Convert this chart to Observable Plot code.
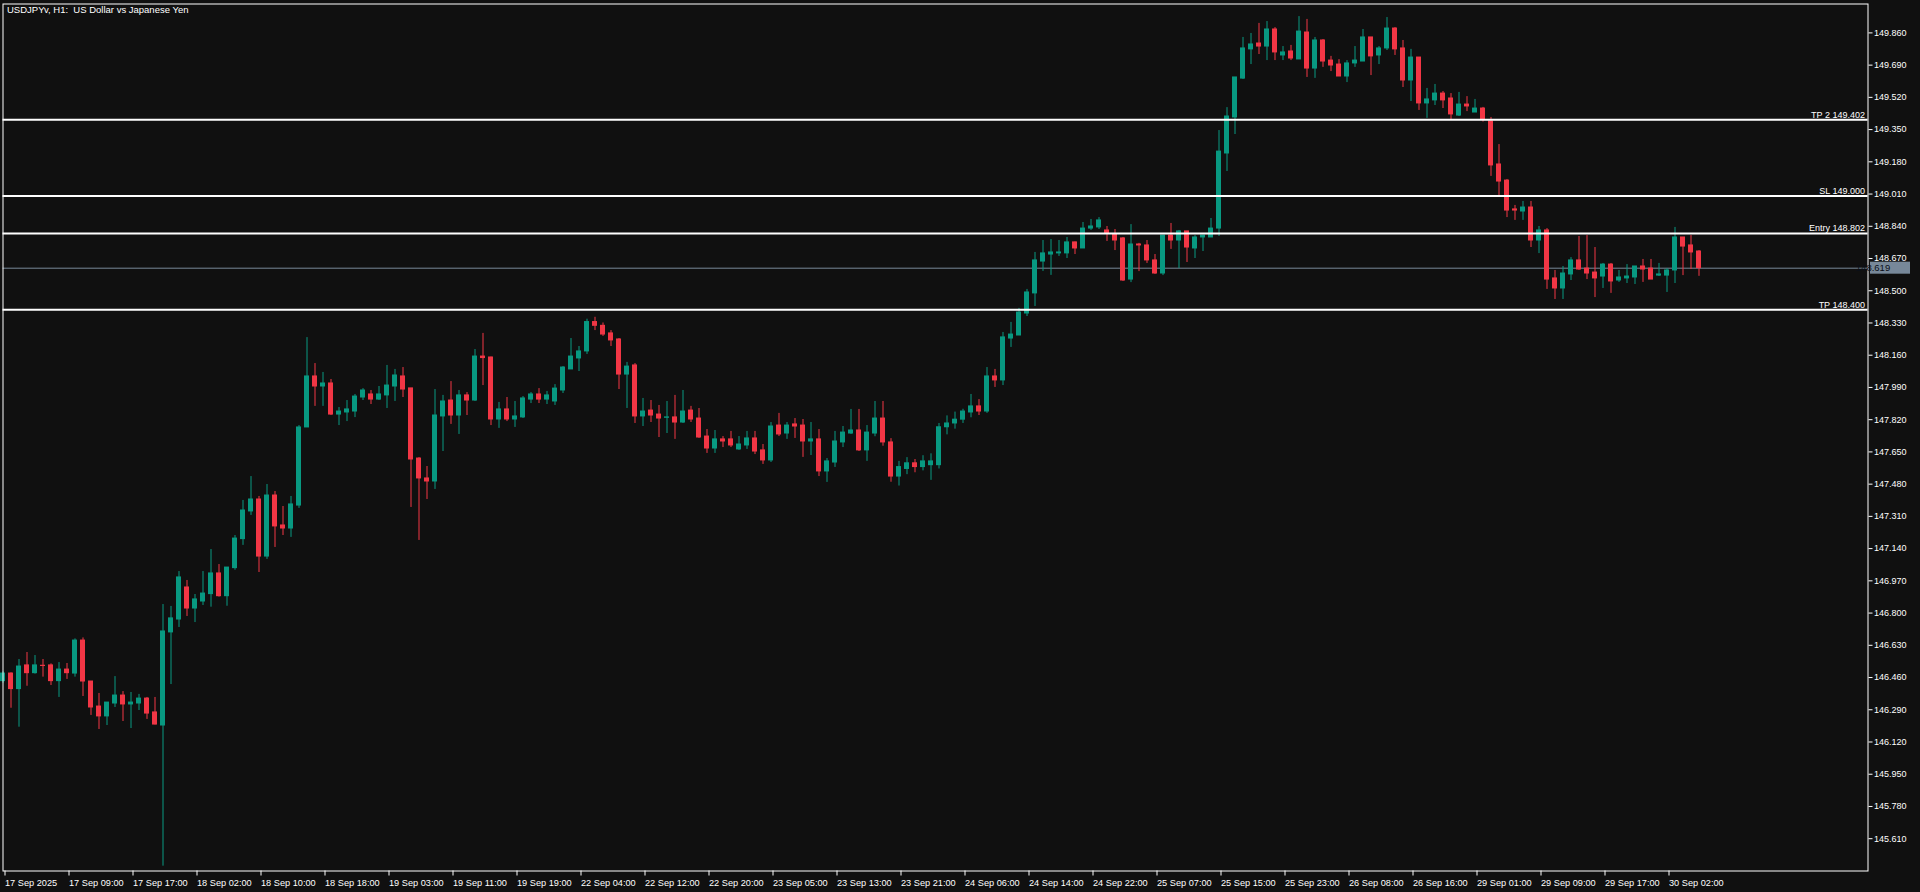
<!DOCTYPE html>
<html><head><meta charset="utf-8">
<script src="https://cdn.jsdelivr.net/npm/d3@7"></script>
<script src="https://cdn.jsdelivr.net/npm/@observablehq/plot@0.6"></script>
<style>
html,body{margin:0;padding:0;background:#101010;overflow:hidden;}
#chart svg{display:block;}
</style></head><body><div id="chart"></div>
<script>
const title = "USDJPYv, H1:  US Dollar vs Japanese Yen";

const open = [146.441,146.481,146.399,146.524,146.483,146.522,146.524,146.441,146.502,146.481,
146.655,146.439,146.307,146.255,146.323,146.365,146.318,146.323,146.349,146.276,
146.207,146.698,146.766,146.935,146.824,146.861,146.900,147.009,146.889,147.037,
147.190,147.336,147.399,147.098,147.420,147.262,147.246,147.367,147.779,148.048,
147.995,148.011,147.847,147.858,147.863,147.937,147.953,147.926,147.948,147.995,
148.048,147.985,147.615,147.510,147.494,147.837,147.921,147.842,147.948,147.921,
148.153,148.148,147.821,147.874,147.821,147.832,147.926,147.953,147.926,147.916,
147.974,148.085,148.143,148.180,148.335,148.315,148.275,148.243,148.058,148.106,
147.837,147.868,147.847,147.830,147.832,147.805,147.868,147.826,147.731,147.668,
147.716,147.716,147.663,147.684,147.721,147.658,147.605,147.789,147.747,147.795,
147.789,147.705,147.716,147.547,147.594,147.700,147.747,147.763,147.658,147.747,
147.826,147.700,147.520,147.560,147.590,147.570,147.580,147.580,147.780,147.800,
147.820,147.858,147.890,147.863,148.048,148.027,148.248,148.264,148.380,148.486,
148.654,148.691,148.697,148.697,148.755,148.723,148.828,148.834,148.818,148.797,
148.776,148.559,148.744,148.739,148.660,148.591,148.791,148.765,148.813,148.723,
148.781,148.781,148.828,149.224,149.414,149.619,149.773,149.804,149.788,149.878,
149.741,149.762,149.720,149.862,149.672,149.820,149.714,149.693,149.630,149.699,
149.709,149.836,149.741,149.778,149.883,149.778,149.609,149.730,149.488,149.504,
149.540,149.514,149.424,149.482,149.440,149.461,149.393,149.166,149.081,148.929,
148.918,148.939,148.765,148.818,148.565,148.512,148.586,148.660,148.617,148.596,
148.575,148.638,148.554,148.565,148.570,148.628,148.617,148.580,148.580,148.607,
148.781,148.739,148.707];

const high = [146.490,146.485,146.555,146.592,146.576,146.555,146.532,146.539,146.534,146.664,
146.669,146.439,146.376,146.328,146.465,146.386,146.381,146.371,146.355,146.355,
146.845,146.835,147.019,146.972,146.898,147.019,147.135,147.056,147.040,147.209,
147.394,147.520,147.415,147.478,147.441,147.362,147.415,147.789,148.253,148.116,
148.069,148.032,147.884,147.921,147.953,147.984,147.974,147.995,148.106,148.085,
148.095,147.985,147.620,147.573,147.979,147.948,148.021,147.974,147.963,148.190,
148.275,148.150,147.911,147.937,147.916,147.942,147.963,147.984,147.969,148.005,
148.100,148.248,148.206,148.350,148.360,148.330,148.290,148.248,148.122,148.116,
147.932,147.921,147.895,147.916,147.948,147.974,147.890,147.879,147.768,147.763,
147.731,147.758,147.731,147.758,147.758,147.689,147.805,147.853,147.805,147.826,
147.821,147.805,147.768,147.615,147.758,147.784,147.874,147.874,147.789,147.916,
147.916,147.720,147.600,147.620,147.610,147.630,147.640,147.800,147.840,147.860,
147.875,147.953,147.926,148.095,148.085,148.280,148.333,148.407,148.507,148.702,
148.765,148.770,148.765,148.781,148.757,148.860,148.876,148.886,148.839,148.823,
148.781,148.849,148.750,148.765,148.691,148.791,148.855,148.818,148.813,148.791,
148.791,148.881,149.345,149.466,149.625,149.836,149.857,149.910,149.920,149.888,
149.788,149.794,149.946,149.931,149.836,149.825,149.736,149.719,149.714,149.788,
149.878,149.836,149.788,149.941,149.888,149.820,149.773,149.730,149.567,149.588,
149.551,149.540,149.546,149.524,149.509,149.467,149.414,149.271,149.087,148.950,
148.971,148.971,148.839,148.828,148.607,148.628,148.675,148.786,148.791,148.728,
148.644,148.644,148.607,148.638,148.628,148.665,148.665,148.644,148.617,148.834,
148.781,148.791,148.712];

const low = [146.430,146.298,146.198,146.414,146.478,146.462,146.418,146.355,146.450,146.462,
146.360,146.260,146.186,146.207,146.302,146.228,146.191,146.286,146.239,146.210,
145.465,146.423,146.724,146.782,146.750,146.840,146.831,146.884,146.836,147.026,
147.157,147.315,147.014,147.083,147.146,147.209,147.199,147.352,147.779,147.890,
147.890,147.842,147.789,147.810,147.831,147.921,147.900,147.921,147.879,147.916,
147.937,147.357,147.183,147.399,147.452,147.652,147.795,147.742,147.842,147.916,
148.000,147.789,147.774,147.810,147.779,147.826,147.905,147.905,147.900,147.895,
147.958,148.085,148.074,148.164,148.290,148.259,148.206,147.979,147.879,147.800,
147.784,147.805,147.726,147.747,147.716,147.800,147.805,147.721,147.642,147.642,
147.673,147.673,147.658,147.663,147.636,147.584,147.594,147.731,147.716,147.721,
147.621,147.631,147.520,147.489,147.568,147.673,147.742,147.652,147.600,147.730,
147.680,147.490,147.470,147.530,147.540,147.550,147.500,147.560,147.740,147.770,
147.800,147.830,147.842,147.853,147.990,148.000,148.201,148.264,148.364,148.417,
148.602,148.581,148.681,148.670,148.691,148.723,148.818,148.823,148.760,148.712,
148.549,148.543,148.601,148.644,148.586,148.580,148.718,148.617,148.649,148.670,
148.707,148.781,148.786,149.129,149.324,149.614,149.693,149.746,149.714,149.714,
149.714,149.714,149.720,149.625,149.620,149.678,149.656,149.630,149.598,149.678,
149.709,149.635,149.693,149.767,149.741,149.572,149.498,149.451,149.409,149.477,
149.461,149.398,149.419,149.445,149.440,149.390,149.103,149.002,148.886,148.871,
148.871,148.728,148.696,148.507,148.454,148.454,148.554,148.607,148.559,148.464,
148.512,148.486,148.544,148.538,148.533,148.544,148.559,148.575,148.491,148.538,
148.580,148.612,148.576];

const close = [146.481,146.399,146.518,146.483,146.524,146.521,146.441,146.502,146.483,146.655,
146.439,146.302,146.255,146.328,146.365,146.318,146.328,146.349,146.270,146.212,
146.703,146.772,146.988,146.824,146.872,146.903,147.009,146.889,147.040,147.193,
147.341,147.399,147.098,147.420,147.257,147.246,147.373,147.779,148.048,147.995,
148.011,147.847,147.863,147.874,147.942,147.974,147.926,147.953,148.000,148.053,
147.979,147.610,147.510,147.494,147.842,147.916,147.842,147.948,147.921,148.153,
148.145,147.821,147.874,147.821,147.837,147.932,147.953,147.926,147.948,147.984,
148.095,148.153,148.180,148.335,148.315,148.269,148.238,148.058,148.100,147.837,
147.863,147.842,147.826,147.832,147.805,147.863,147.821,147.726,147.668,147.716,
147.705,147.684,147.689,147.721,147.652,147.605,147.784,147.742,147.789,147.784,
147.705,147.716,147.547,147.600,147.705,147.752,147.763,147.658,147.752,147.826,
147.700,147.520,147.570,147.590,147.570,147.600,147.600,147.780,147.800,147.820,
147.863,147.890,147.863,148.048,148.027,148.254,148.269,148.385,148.491,148.660,
148.697,148.702,148.702,148.755,148.723,148.828,148.839,148.871,148.802,148.765,
148.554,148.744,148.739,148.660,148.591,148.791,148.765,148.813,148.728,148.781,
148.791,148.828,149.234,149.419,149.625,149.778,149.799,149.788,149.878,149.757,
149.757,149.725,149.867,149.672,149.820,149.709,149.688,149.630,149.699,149.714,
149.836,149.736,149.778,149.883,149.773,149.609,149.730,149.488,149.509,149.540,
149.504,149.430,149.482,149.472,149.461,149.400,149.161,149.076,148.923,148.923,
148.939,148.765,148.818,148.559,148.512,148.591,148.660,148.612,148.591,148.565,
148.638,148.549,148.570,148.575,148.628,148.612,148.559,148.586,148.607,148.781,
148.733,148.702,148.619];

const timeLabels = ["17 Sep 2025","17 Sep 09:00","17 Sep 17:00","18 Sep 02:00","18 Sep 10:00",
"18 Sep 18:00","19 Sep 03:00","19 Sep 11:00","19 Sep 19:00","22 Sep 04:00","22 Sep 12:00",
"22 Sep 20:00","23 Sep 05:00","23 Sep 13:00","23 Sep 21:00","24 Sep 06:00","24 Sep 14:00",
"24 Sep 22:00","25 Sep 07:00","25 Sep 15:00","25 Sep 23:00","26 Sep 08:00","26 Sep 16:00",
"29 Sep 01:00","29 Sep 09:00","29 Sep 17:00","30 Sep 02:00"];
const barsPerLabel = 8;

const priceTicks = [145.610,145.780,145.950,146.120,146.290,146.460,146.630,146.800,146.970,
147.140,147.310,147.480,147.650,147.820,147.990,148.160,148.330,148.500,148.670,148.840,
149.010,149.180,149.350,149.520,149.690,149.860];

const levelNames = ["TP 2","SL","Entry","TP"];
const levelValues = [149.402,149.000,148.802,148.400];
const currentPrice = 148.619;

const GREEN = "#089981", RED = "#f23645", BG = "#101010";
const FONT = "'Liberation Sans', Arial, sans-serif";
const bars = open.map((o, i) => ({i, o, h: high[i], l: low[i], c: close[i], up: close[i] >= o}));
const upBars = bars.filter(d => d.up), downBars = bars.filter(d => !d.up);
const half = 2.5 / 8;
const tickIdx = timeLabels.map((_, k) => k * barsPerLabel);
const levels = levelValues.map((v, k) => ({v, name: levelNames[k]}));

const W = 1920, H = 892;
const chart = Plot.plot({
  width: W, height: H,
  marginLeft: 2.5, marginRight: 52.5, marginTop: 3.5, marginBottom: 21.5,
  style: {background: BG, color: "#ffffff", fontFamily: FONT, fontSize: "9px"},
  x: {type: "linear", domain: [0, 233.125], label: null},
  y: {type: "linear", domain: [145.4396, 150.0124], label: null},
  marks: [
    Plot.ruleY([currentPrice], {stroke: "#778899", strokeWidth: 1}),
    Plot.ruleX(upBars, {x: "i", y1: "l", y2: "h", stroke: GREEN, strokeWidth: 1}),
    Plot.ruleX(downBars, {x: "i", y1: "l", y2: "h", stroke: RED, strokeWidth: 1}),
    Plot.rect(upBars, {x1: d => d.i - half, x2: d => d.i + half, y1: "o", y2: "c", fill: GREEN, insetTop: -0.5, insetBottom: -0.5}),
    Plot.rect(downBars, {x1: d => d.i - half, x2: d => d.i + half, y1: "o", y2: "c", fill: RED, insetTop: -0.5, insetBottom: -0.5}),
    Plot.ruleY(levels, {y: "v", stroke: "#ffffff", strokeWidth: 2}),
    Plot.text(levels, {y: "v", text: d => d.name + " " + d.v.toFixed(3), frameAnchor: "right",
      textAnchor: "end", lineAnchor: "bottom", dx: -3, dy: -2, fill: "#ffffff", fontSize: 9}),
    Plot.text([title], {text: d => d, frameAnchor: "top-left", textAnchor: "start", lineAnchor: "top",
      dx: 4, dy: 2, fill: "#ffffff", fontSize: 9.5}),
    Plot.frame({stroke: "#ffffff"}),
    Plot.axisY(priceTicks, {anchor: "right", label: null, tickSize: 4, tickPadding: 2, tickFormat: d => d.toFixed(3),
      fontSize: 9, stroke: "#ffffff", fill: "#ffffff"}),
    Plot.axisX(tickIdx, {anchor: "bottom", label: null, tickSize: 5, tickPadding: 3, textAnchor: "start", dx: 2,
      tickFormat: d => timeLabels[Math.round(d / barsPerLabel)],
      fontFamily: FONT, fontSize: 9.2, stroke: "#ffffff", fill: "#ffffff"})
  ]
});

// current price tag on the price axis, positioned with Plot's own scales
const ys = chart.scale("y"), xs = chart.scale("x");
const yp = ys.apply(currentPrice);
const xr = xs.range[1];
const g = d3.select(chart).append("g");
g.append("rect").attr("x", xr + 2.5).attr("y", yp - 6).attr("width", 40).attr("height", 12).attr("fill", "#778899");
g.append("text").attr("x", xr + 5.5).attr("y", yp).attr("dy", "0.35em").attr("fill", "#0a0f18")
  .attr("font-size", 9.5).attr("font-family", FONT).text(currentPrice.toFixed(3));

document.getElementById("chart").appendChild(chart);
</script></body></html>
